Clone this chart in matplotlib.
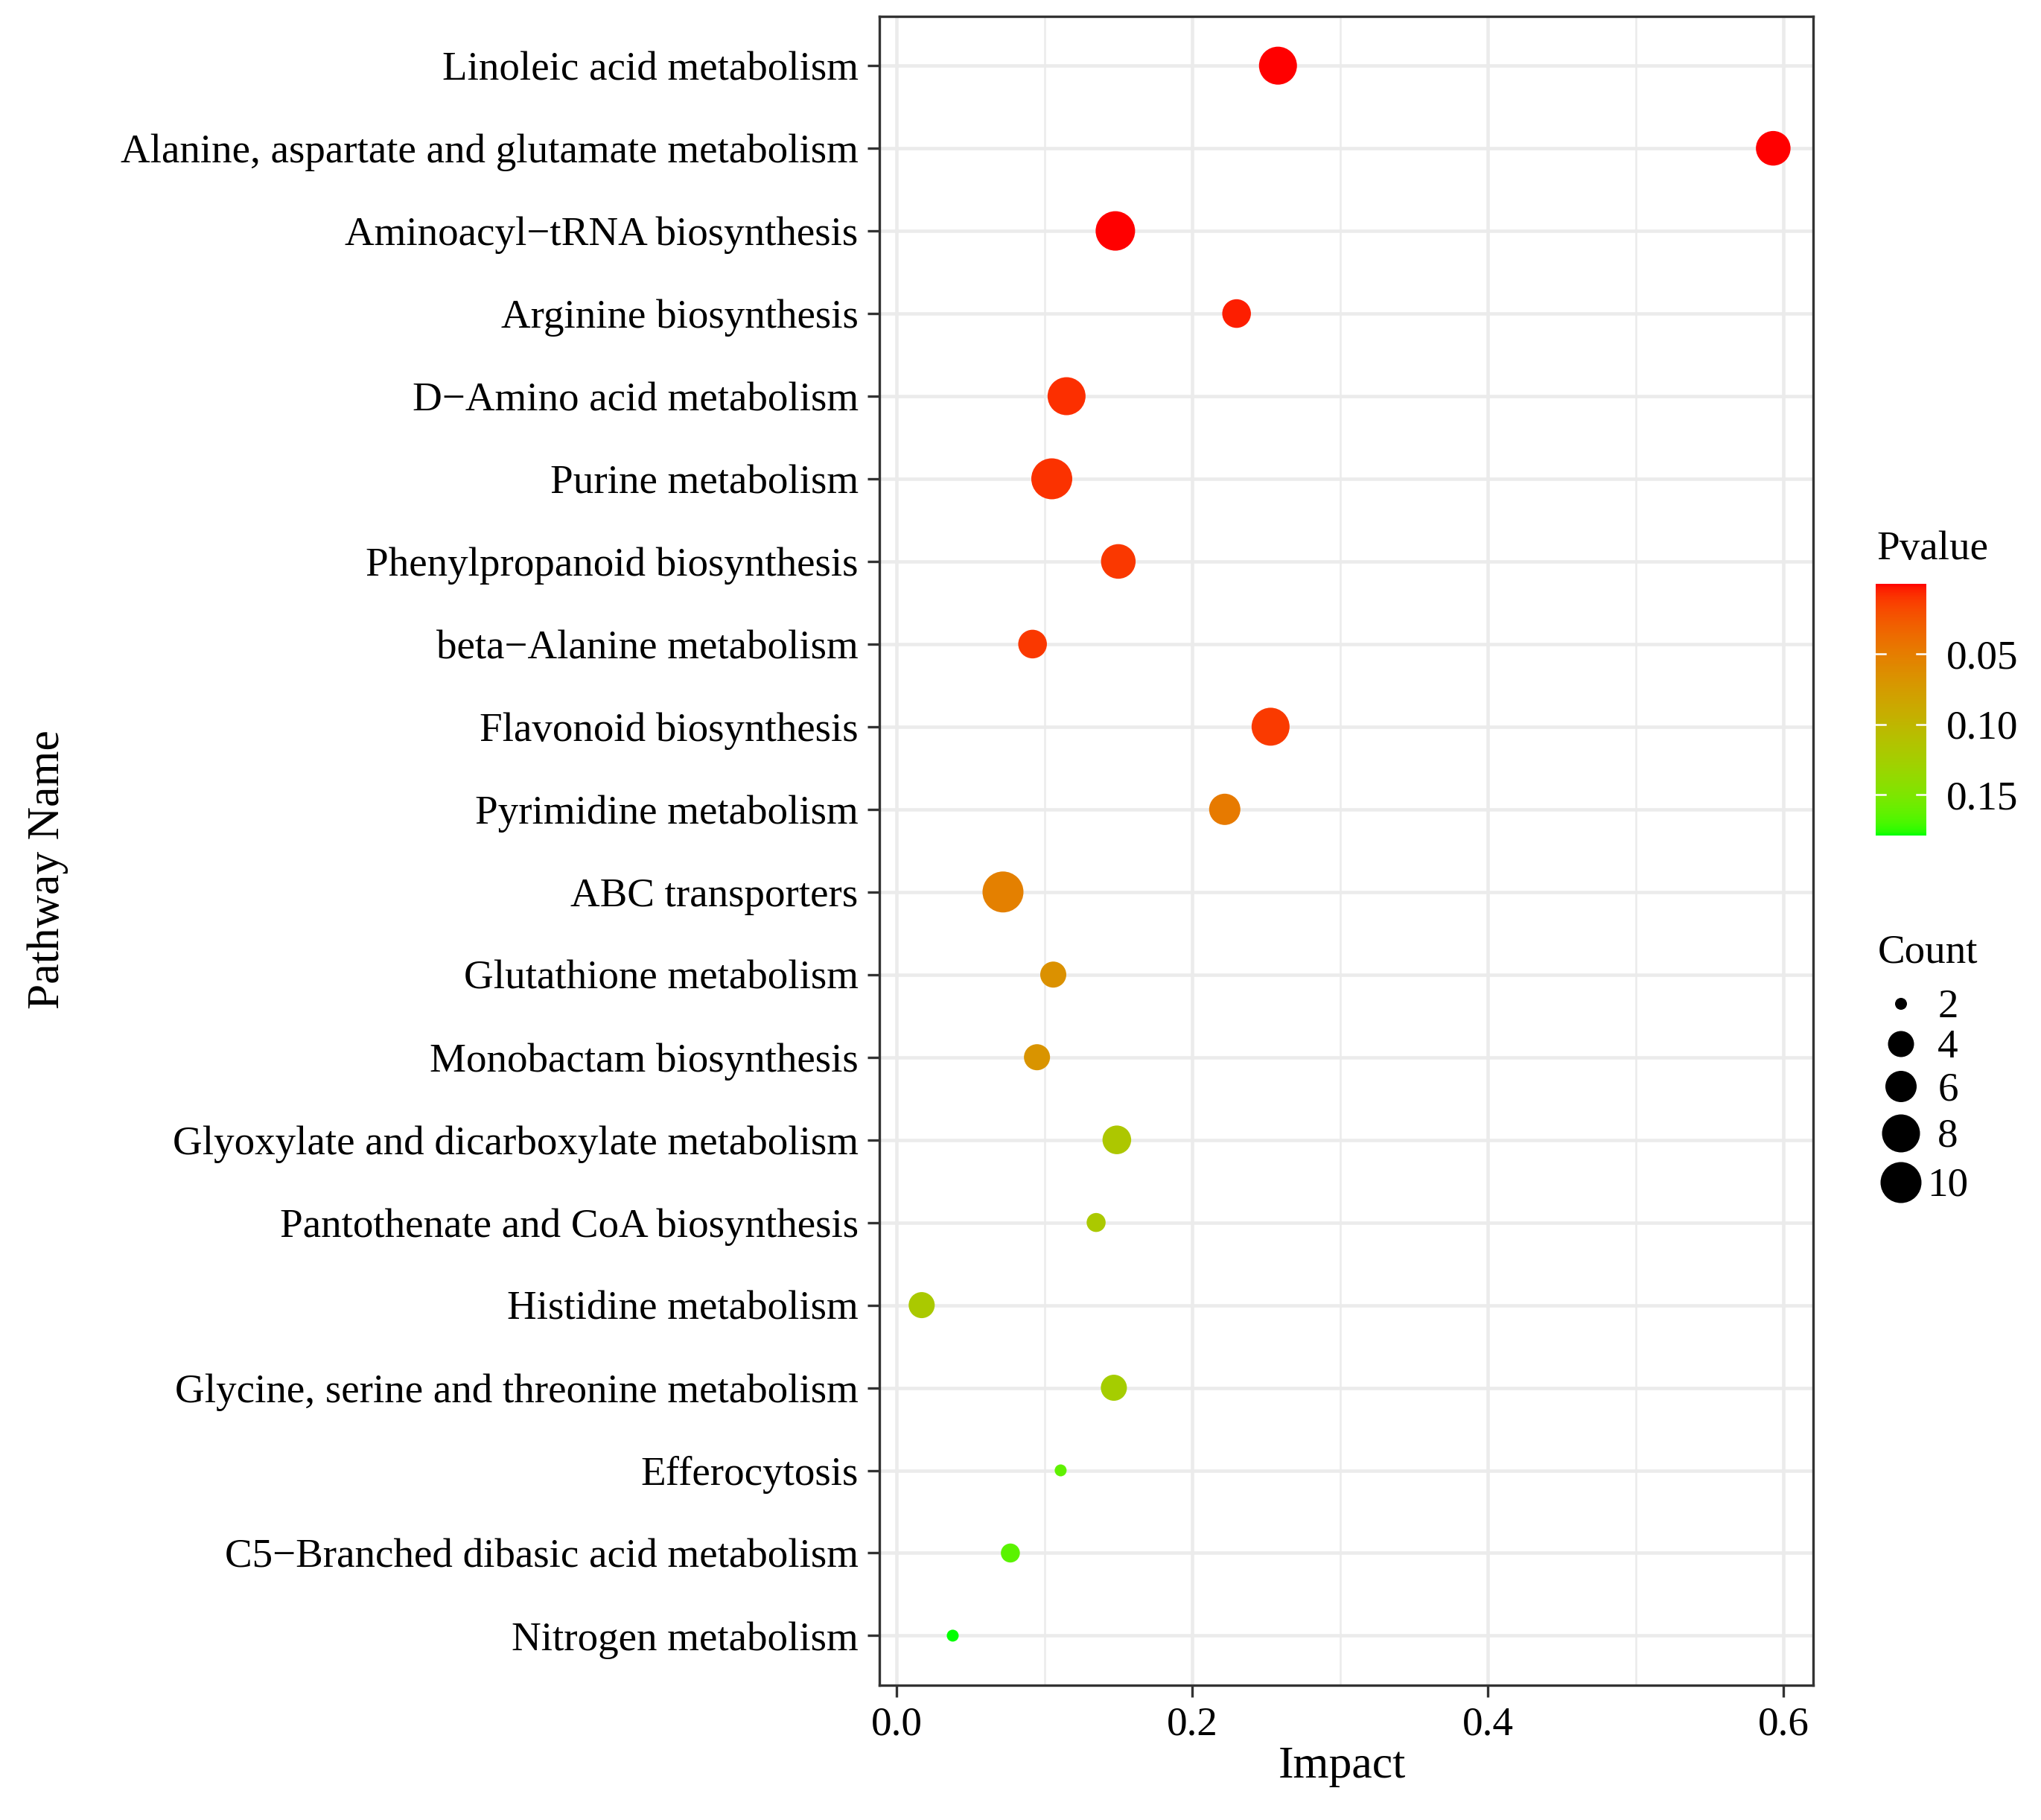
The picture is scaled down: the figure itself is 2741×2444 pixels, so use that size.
import matplotlib
matplotlib.use("Agg")
import matplotlib.pyplot as plt
import numpy as np
from matplotlib.colors import ListedColormap, Normalize
from matplotlib.cm import ScalarMappable

# ---- data ----
pathways = [
    "Linoleic acid metabolism",
    "Alanine, aspartate and glutamate metabolism",
    "Aminoacyl\u2212tRNA biosynthesis",
    "Arginine biosynthesis",
    "D\u2212Amino acid metabolism",
    "Purine metabolism",
    "Phenylpropanoid biosynthesis",
    "beta\u2212Alanine metabolism",
    "Flavonoid biosynthesis",
    "Pyrimidine metabolism",
    "ABC transporters",
    "Glutathione metabolism",
    "Monobactam biosynthesis",
    "Glyoxylate and dicarboxylate metabolism",
    "Pantothenate and CoA biosynthesis",
    "Histidine metabolism",
    "Glycine, serine and threonine metabolism",
    "Efferocytosis",
    "C5\u2212Branched dibasic acid metabolism",
    "Nitrogen metabolism",
]
impact = [0.258, 0.593, 0.148, 0.230, 0.115, 0.105, 0.150, 0.092, 0.253, 0.222,
          0.072, 0.106, 0.095, 0.149, 0.135, 0.017, 0.147, 0.111, 0.077, 0.038]
pvalue = [0.0002, 0.0006, 0.0004, 0.004, 0.008, 0.009, 0.011, 0.011, 0.012, 0.047,
          0.052, 0.066, 0.069, 0.118, 0.119, 0.120, 0.124, 0.163, 0.165, 0.179]
count = [8, 7, 9, 5, 8, 10, 7, 5, 8, 6,
         10, 4, 4, 5, 3, 4, 4, 2, 3, 2]

count_breaks = [2, 4, 6, 8, 10]
pvalue_ticks = [0.05, 0.10, 0.15]

W, H, DPI = 2741, 2444, 300
SERIF = ["Liberation Serif", "DejaVu Serif"]
plt.rcParams["font.family"] = SERIF
FS_TICK = 13.2
FS_TITLE = 14.8


# ---- ggplot-like Lab gradient red -> green ----
def srgb_to_lab(rgb):
    rgb = np.asarray(rgb, float)
    lin = np.where(rgb <= 0.04045, rgb / 12.92, ((rgb + 0.055) / 1.055) ** 2.4)
    m = np.array([[0.4124, 0.3576, 0.1805],
                  [0.2126, 0.7152, 0.0722],
                  [0.0193, 0.1192, 0.9505]])
    xyz = m @ lin / np.array([0.95047, 1.0, 1.08883])
    f = np.where(xyz > 0.008856, np.cbrt(xyz), 7.787 * xyz + 16 / 116)
    return np.array([116 * f[1] - 16, 500 * (f[0] - f[1]), 200 * (f[1] - f[2])])


def lab_to_srgb(lab):
    L, a, b = lab
    fy = (L + 16) / 116
    f = np.array([fy + a / 500, fy, fy - b / 200])
    xyz = np.where(f ** 3 > 0.008856, f ** 3, (f - 16 / 116) / 7.787)
    xyz = xyz * np.array([0.95047, 1.0, 1.08883])
    m = np.array([[3.2406, -1.5372, -0.4986],
                  [-0.9689, 1.8758, 0.0415],
                  [0.0557, -0.2040, 1.0570]])
    lin = m @ xyz
    rgb = np.where(lin <= 0.0031308, 12.92 * lin,
                   1.055 * np.clip(lin, 0, None) ** (1 / 2.4) - 0.055)
    return np.clip(rgb, 0, 1)


lab_lo = srgb_to_lab([1, 0, 0])
lab_hi = srgb_to_lab([0, 1, 0])
cmap = ListedColormap([lab_to_srgb(lab_lo + t * (lab_hi - lab_lo))
                       for t in np.linspace(0, 1, 256)])
norm = Normalize(vmin=min(pvalue), vmax=max(pvalue))

# count -> point diameter (px), matched to the reference legend keys
KEY_DIAM_PX = [16, 35, 42, 51, 55]


def diam_pts(c):
    return np.interp(c, count_breaks, KEY_DIAM_PX) * 72.0 / DPI


fig = plt.figure(figsize=(W / DPI, H / DPI), dpi=DPI)
ax_l, ax_r, ax_t, ax_b = 1181, 2435, 21.6, 2263
ax = fig.add_axes([ax_l / W, 1 - ax_b / H, (ax_r - ax_l) / W, (ax_b - ax_t) / H])

n = len(pathways)
ypos = np.arange(n)[::-1]
ax.scatter(impact, ypos, s=diam_pts(np.array(count)) ** 2, c=pvalue, cmap=cmap,
           norm=norm, edgecolors="none", zorder=3)

ax.set_xlim(-0.0116, 0.62)
ax.set_ylim(-0.6, n - 1 + 0.6)
ax.set_xticks([0.0, 0.2, 0.4, 0.6])
ax.set_xticks([0.1, 0.3, 0.5], minor=True)
ax.set_xticklabels(["0.0", "0.2", "0.4", "0.6"])
ax.set_yticks(ypos)
ax.set_yticklabels(pathways)
ax.grid(which="major", color="#EBEBEB", linewidth=1.1, zorder=0)
ax.grid(which="minor", axis="x", color="#EBEBEB", linewidth=0.6, zorder=0)
ax.set_axisbelow(True)
ax.tick_params(which="major", length=3.8, width=0.8, color="#333333",
               labelsize=FS_TICK, labelcolor="black", pad=3)
ax.tick_params(which="minor", length=0)
for sp in ax.spines.values():
    sp.set_color("#333333")
    sp.set_linewidth(0.8)

pw, ph = ax_r - ax_l, ax_b - ax_t
ax.set_xlabel("Impact", fontsize=FS_TITLE, va="top")
ax.xaxis.set_label_coords((1802 - ax_l) / pw, -(2345 - ax_b) / ph)
ax.set_ylabel("Pathway Name", fontsize=FS_TITLE)
ax.yaxis.set_label_coords(-(ax_l - 92) / pw, 1 - (1168 - ax_t) / ph)

# ---- Pvalue colourbar ----
cax = fig.add_axes([2519 / W, 1 - 1122 / H, 68 / W, 338 / H])
cb = fig.colorbar(ScalarMappable(norm=norm, cmap=cmap), cax=cax)
cb.outline.set_visible(False)
cax.invert_yaxis()
cb.set_ticks(pvalue_ticks)
cb.set_ticklabels([f"{t:.2f}" for t in pvalue_ticks])
cax.tick_params(length=0, labelsize=FS_TICK, pad=6.5)
for t in pvalue_ticks:
    cax.plot([0, 0.19], [t, t], color="white", lw=0.6, transform=cax.get_yaxis_transform())
    cax.plot([0.81, 1.0], [t, t], color="white", lw=0.6, transform=cax.get_yaxis_transform())
fig.text(2520 / W, 1 - 751 / H, "Pvalue", fontsize=FS_TICK, ha="left", va="baseline")

# ---- Count size legend ----
fig.text(2522 / W, 1 - 1292 / H, "Count", fontsize=FS_TICK, ha="left", va="baseline")
lg = fig.add_axes([0, 0, 1, 1])
lg.set_xlim(0, W)
lg.set_ylim(H, 0)
lg.axis("off")
key_y = [1348, 1402, 1459, 1522, 1588]
lg.scatter([2553] * len(count_breaks), key_y, s=diam_pts(np.array(count_breaks)) ** 2,
           color="black", edgecolors="none")
for yk, c in zip(key_y, count_breaks):
    lg.text(2616, yk + 18, str(c), fontsize=FS_TICK, ha="center", va="baseline")

fig.savefig("out.png", dpi=DPI)
